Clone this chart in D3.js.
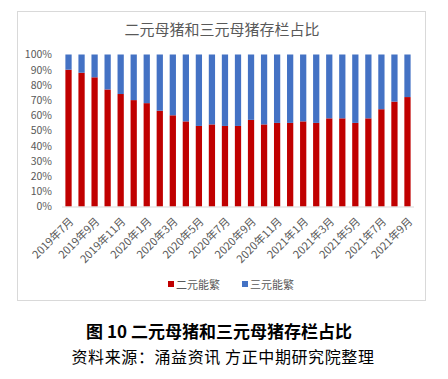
<!DOCTYPE html>
<html><head><meta charset="utf-8">
<script src="https://cdn.jsdelivr.net/npm/d3@7"></script>
<style>body{margin:0;background:#fff;}svg{display:block;}</style>
</head><body>
<svg id="c" width="448" height="379"></svg>
<script>
const months = ["2019年7月","2019年8月","2019年9月","2019年10月","2019年11月","2019年12月","2020年1月","2020年2月","2020年3月","2020年4月","2020年5月","2020年6月","2020年7月","2020年8月","2020年9月","2020年10月","2020年11月","2020年12月","2021年1月","2021年2月","2021年3月","2021年4月","2021年5月","2021年6月","2021年7月","2021年8月","2021年9月"];
const erYuan = [90,88,85,77,74,70,68,63,60,56,53,54,53,53,57,54,55,55,56,55,58,58,55,58,64,69,72];
const sanYuan = erYuan.map(v => 100 - v);
const yTicks = [0,10,20,30,40,50,60,70,80,90,100];
const seriesNames = ["二元能繁","三元能繁"];
const colors = ["#C00000","#4472C4"];

const svg = d3.select("#c");
const font = "'Noto Sans CJK SC', 'Noto Sans', sans-serif";
svg.append("rect").attr("x",17.5).attr("y",11.5).attr("width",408).attr("height",289)
  .attr("fill","#fff").attr("stroke","#d9d9d9");
svg.append("text").attr("x",222).attr("y",35).attr("text-anchor","middle")
  .attr("font-family",font).attr("font-size",15).attr("fill","#595959").text("二元母猪和三元母猪存栏占比");

const x = d3.scaleBand().domain(months).range([62,414]).paddingInner(0.52).paddingOuter(0.26);
const y = d3.scaleLinear().domain([0,100]).range([206.5,54.5]);

const rows = months.map((m,i)=>({m, a:erYuan[i], b:sanYuan[i]}));
const stack = d3.stack().keys(["a","b"])(rows);
svg.append("g").selectAll("g").data(stack).join("g").attr("fill",(d,i)=>colors[i])
  .selectAll("rect").data(d=>d).join("rect")
  .attr("x",d=>x(d.data.m)).attr("width",x.bandwidth())
  .attr("y",d=>y(d[1])).attr("height",d=>y(d[0])-y(d[1]));

const yAxis = d3.axisLeft(y).tickValues(yTicks).tickFormat(d=>d+"%").tickSize(0).tickPadding(10);
const gy = svg.append("g").attr("transform","translate(62,0)").call(yAxis);
gy.select(".domain").remove();
gy.selectAll("text").attr("font-family",font).attr("font-size",10.5).attr("fill","#595959");

const xAxis = d3.axisBottom(x).tickValues(months.filter((m,i)=>i%2===0)).tickSize(0).tickPadding(0);
const gx = svg.append("g").attr("transform","translate(0,206.5)").call(xAxis);
gx.select(".domain").attr("stroke","#d9d9d9").attr("d","M62,0.5H414");
gx.selectAll("text").attr("font-family",font).attr("font-size",11).attr("fill","#595959")
  .attr("text-anchor","end").attr("y",0).attr("dy","0.35em")
  .attr("transform","translate(3,13) rotate(-45)");

const lg = svg.append("g");
const lx = [168,242];
seriesNames.forEach((n,i)=>{
  lg.append("rect").attr("x",lx[i]).attr("y",281).attr("width",6).attr("height",6).attr("fill",colors[i]);
  lg.append("text").attr("x",lx[i]+8).attr("y",288.5).attr("font-family",font).attr("font-size",11)
    .attr("fill","#595959").text(n);
});

svg.append("text").attr("x",219).attr("y",338).attr("text-anchor","middle")
  .attr("font-family",font).attr("font-weight","bold").attr("font-size",17).attr("fill","#000")
  .text("图 10 二元母猪和三元母猪存栏占比");
svg.append("text").attr("x",223).attr("y",363).attr("text-anchor","middle")
  .attr("font-family",font).attr("font-size",16).attr("letter-spacing",0.6).attr("fill","#000")
  .text("资料来源：涌益资讯 方正中期研究院整理");
</script>
</body></html>
